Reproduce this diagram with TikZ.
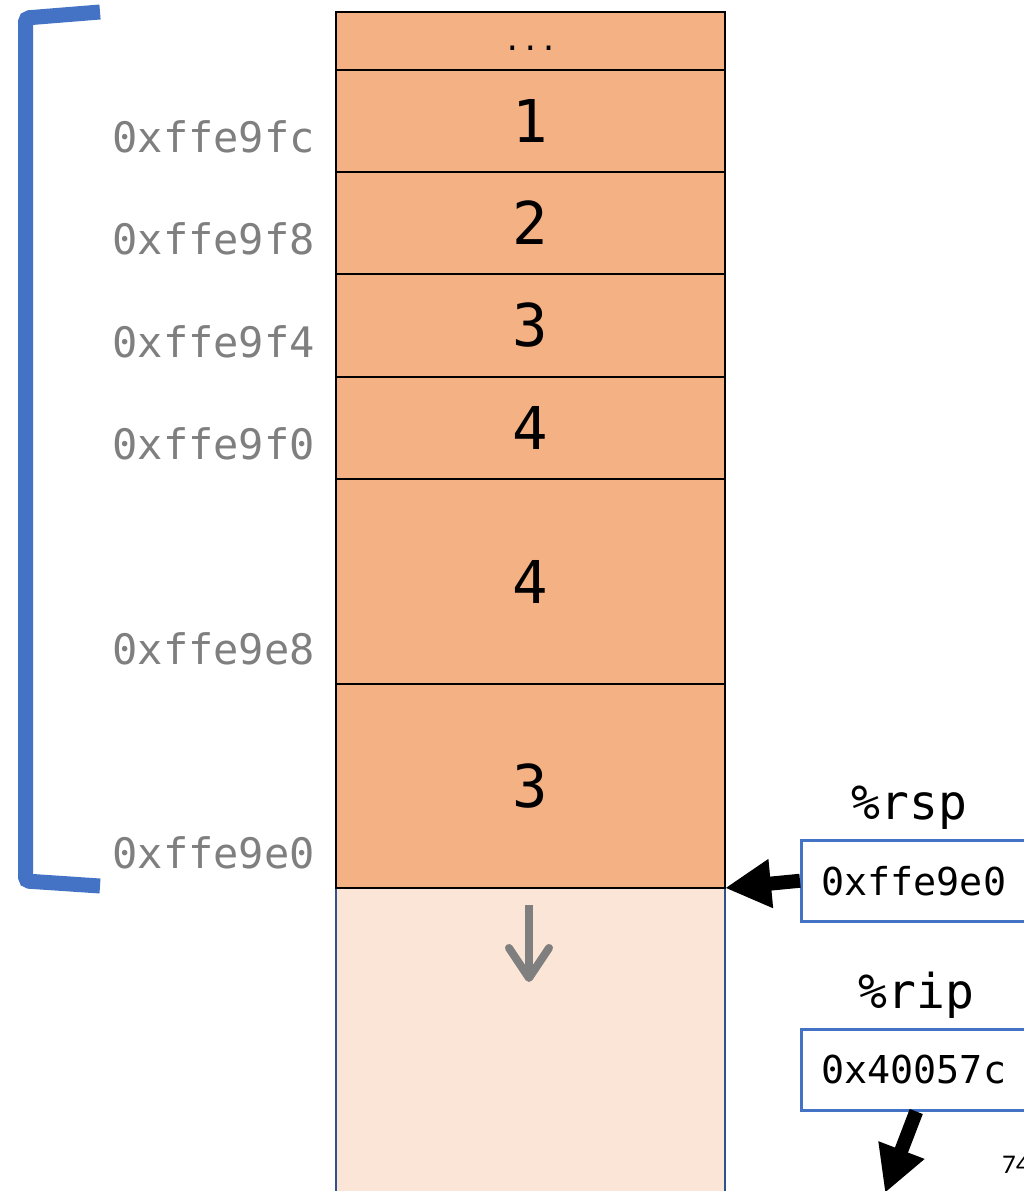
\documentclass[tikz,border=0pt]{standalone}
\usepackage{fontspec}
\setmonofont{DejaVu Sans Mono}
\newfontfamily\pagefont{Carlito}
\usepackage{xcolor}
\definecolor{Stack}{HTML}{F4B183}
\definecolor{Free}{HTML}{FBE5D6}
\definecolor{Bracket}{HTML}{4472C4}
\definecolor{RegEdge}{HTML}{4472C4}
\definecolor{FreeEdge}{HTML}{2F528F}
\definecolor{Addr}{HTML}{7F7F7F}
\usepackage{tikz}
\usetikzlibrary{arrows.meta,positioning,backgrounds}

\begin{document}
\begin{tikzpicture}[
  x=1pt,y=-1pt,
  cell/.style={draw=black,line width=2.5pt,fill=Stack,minimum width=389pt,outer sep=0pt,
    inner sep=0pt,font=\ttfamily\fontsize{59}{60}\selectfont},
  addr/.style={anchor=base east,text=Addr,inner sep=0pt,font=\ttfamily\fontsize{42}{44}\selectfont},
  regbox/.style={draw=RegEdge,line width=2.5pt,anchor=north west,minimum height=81pt,
    text width=190pt,inner xsep=20pt,align=left,font=\ttfamily\fontsize{38.4}{40}\selectfont},
  regname/.style={inner sep=0pt,font=\ttfamily\fontsize{48}{50}\selectfont},
  fatarrow/.style={-{Triangle[length=46pt,width=46pt]},line width=14pt},
  growarrow/.style={-{Straight Barb[length=30pt,width=40pt,round]},line width=8pt,draw=Addr}
]
\useasboundingbox (0,0) rectangle (1024,1191);
\node[cell,minimum height=58pt,anchor=north west,text height=18pt,text depth=0pt,
  font=\ttfamily\fontsize{30}{30}\selectfont] (top) at (336,12) {...};
\node[cell,minimum height=102pt,below=0pt of top] (s1) {1};
\node[cell,minimum height=102pt,below=0pt of s1] (s2) {2};
\node[cell,minimum height=103pt,below=0pt of s2] (s3) {3};
\node[cell,minimum height=102pt,below=0pt of s3] (s4) {4};
\node[cell,minimum height=205pt,below=0pt of s4] (s5) {4};
\node[cell,minimum height=204pt,below=0pt of s5] (s6) {3};
\begin{scope}[on background layer]
\fill[white] (0,0) rectangle (1024,1191);
\node[fill=Free,draw=FreeEdge,line width=2pt,minimum width=389pt,minimum height=330pt,
  outer sep=0pt,below=0pt of s6] (free) {};
\end{scope}
% addresses
\node[addr] (a1) at ([xshift=-21pt,yshift=20pt]s1.south west) {0xffe9fc};
\node[addr] (a2) at ([xshift=-21pt,yshift=20pt]s2.south west) {0xffe9f8};
\node[addr] (a3) at ([xshift=-21pt,yshift=20pt]s3.south west) {0xffe9f4};
\node[addr] (a4) at ([xshift=-21pt,yshift=20pt]s4.south west) {0xffe9f0};
\node[addr] (a5) at ([xshift=-21pt,yshift=20pt]s5.south west) {0xffe9e8};
\node[addr] (a6) at ([xshift=-21pt,yshift=20pt]s6.south west) {0xffe9e0};
\draw[line width=15pt,draw=Bracket,rounded corners=4pt] (100,12) -- (25.5,18) -- (25.5,881) -- (100,886);
% registers
\node[regbox] (rspbox) at (800,839) {0xffe9e0};
\node[regname,above=9pt of rspbox,xshift=-7pt] (rsp) {\%rsp};
\node[regbox] (ripbox) at (800,1028) {0x40057c};
\node[regname,above=9pt of ripbox] (rip) {\%rip};
\coordinate (ripend) at (885,1193);
\draw[fatarrow] (rspbox.west) -- (s6.south east);
\draw[fatarrow] (ripbox.south) -- (ripend);
\coordinate (growtop) at (529,905);
\coordinate (growend) at (529,982);
\draw[growarrow] (growtop) -- (growend);
\node[anchor=base west,inner sep=0pt,font=\pagefont\fontsize{27}{28}\selectfont] (pagenum) at (1002,1173) {74};
\end{tikzpicture}
\end{document}
